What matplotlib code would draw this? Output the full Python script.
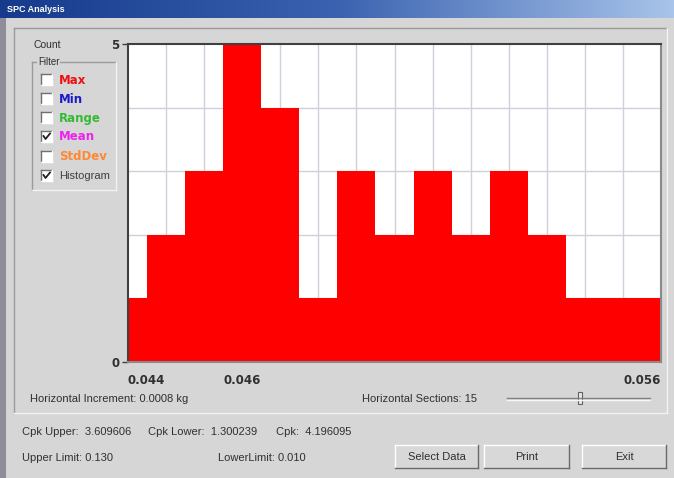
import matplotlib
matplotlib.use("Agg")
import matplotlib.pyplot as plt
import numpy as np
from matplotlib.patches import Rectangle
from matplotlib.colors import LinearSegmentedColormap

# histogram data (15 horizontal sections, increment 0.0008 kg)
bin_centers = [0.0440, 0.0448, 0.0456, 0.0464, 0.0472, 0.0480, 0.0488, 0.0496,
               0.0504, 0.0512, 0.0520, 0.0528, 0.0536, 0.0544, 0.0552]
counts = [1, 2, 3, 5, 4, 1, 3, 2, 3, 2, 3, 2, 1, 1, 1]
x_ticks = [0.044, 0.046, 0.0552]
x_tick_labels = ["0.044", "0.046", "0.056"]
y_ticks = [0, 5]

filters = ["Max", "Min", "Range", "Mean", "StdDev", "Histogram"]
filter_colors = ["#ee1111", "#1a1acc", "#33bb33", "#ee22ee", "#ff8833", "#404040"]
filter_checked = [False, False, False, True, False, True]

W, H = 674, 478
BG = "#d6d6d6"
TXT = "#303030"
plt.rcParams["font.family"] = ["Liberation Sans", "DejaVu Sans"]

fig = plt.figure(figsize=(W / 100, H / 100), dpi=100)
fig.patch.set_facecolor(BG)

# background "dialog" axes in pixel coords
bg = fig.add_axes([0, 0, 1, 1])
bg.set_xlim(0, W)
bg.set_ylim(H, 0)
bg.axis("off")


def box(x0, y0, x1, y1, dark="#808080", light="#f4f4f4", fill=None, lw=1):
    if fill is not None:
        bg.add_patch(Rectangle((x0, y0), x1 - x0, y1 - y0, facecolor=fill, edgecolor="none"))
    bg.plot([x0, x1], [y0, y0], color=dark, lw=lw)
    bg.plot([x0, x0], [y0, y1], color=dark, lw=lw)
    bg.plot([x0, x1], [y1, y1], color=light, lw=lw)
    bg.plot([x1, x1], [y0, y1], color=light, lw=lw)


# title bar
cmap = LinearSegmentedColormap.from_list("tb", ["#163a8c", "#3a62b0", "#a8c4ea"])
grad = np.linspace(0, 1, 256).reshape(1, -1)
bg.imshow(grad, cmap=cmap, aspect="auto", extent=[0, W, 18, 0])
bg.text(7, 9, "SPC Analysis", color="white", fontsize=6.5, va="center", weight="bold")
bg.add_patch(Rectangle((0, 18), 6, H - 18, facecolor="#8e8e98", edgecolor="none"))

# group frames
box(14, 28, 667, 413, dark="#9a9a9a", light="#f2f2f2")
box(32, 62, 116, 190, dark="#9a9a9a", light="#f2f2f2")
bg.text(38, 62, "Filter", fontsize=7, va="center", color=TXT,
        bbox=dict(facecolor=BG, edgecolor="none", pad=0.5))
bg.text(33, 45, "Count", fontsize=7.5, va="center", color=TXT)

rows = [80, 99, 118, 137, 157, 176]
for name, col, chk, yy in zip(filters, filter_colors, filter_checked, rows):
    box(41, yy - 6, 52, yy + 5, dark="#707070", light="#ffffff", fill="white")
    if chk:
        bg.plot([43.5, 45.5, 50], [yy - 1, yy + 2, yy - 3.5], color="#202020", lw=1.3)
    if name == "Histogram":
        bg.text(59, yy, name, fontsize=8, va="center", color=col)
    else:
        bg.text(59, yy, name, fontsize=8.5, va="center", color=col,
                weight="bold", family="DejaVu Sans")

# bottom texts
bg.text(30, 399, "Horizontal Increment: 0.0008 kg", fontsize=8, va="center", color=TXT)
bg.text(362, 399, "Horizontal Sections: 15", fontsize=8, va="center", color=TXT)
bg.plot([507, 650], [398, 398], color="#808080", lw=1)
bg.plot([507, 650], [399.5, 399.5], color="#f6f6f6", lw=1)
bg.add_patch(Rectangle((578, 392), 4, 12, facecolor="#e8e8e8", edgecolor="#606060", lw=0.8))

bg.text(22, 432, "Cpk Upper:  3.609606", fontsize=8, va="center", color=TXT)
bg.text(148, 432, "Cpk Lower:  1.300239", fontsize=8, va="center", color=TXT)
bg.text(276, 432, "Cpk:  4.196095", fontsize=8, va="center", color=TXT)
bg.text(22, 458, "Upper Limit: 0.130", fontsize=8, va="center", color=TXT)
bg.text(218, 458, "LowerLimit: 0.010", fontsize=8, va="center", color=TXT)

for label, x0, x1 in [("Select Data", 395, 478), ("Print", 484, 569), ("Exit", 582, 666)]:
    box(x0, 445, x1, 468, dark="#ffffff", light="#6a6a6a", fill="#d8d8d8")
    bg.text((x0 + x1) / 2, 457, label, fontsize=8, ha="center", va="center", color=TXT)

# histogram chart
ax = fig.add_axes([128 / W, 1 - 362 / H, 533 / W, 318 / H])
ax.set_facecolor("white")
ax.fill_between(bin_centers, counts, 0, step="mid", color="#ff0000", lw=0, zorder=2)
ax.set_xlim(bin_centers[0], bin_centers[-1])
ax.set_ylim(0, 5)
for xc in bin_centers[1:-1]:
    ax.axvline(xc, color="#d0d0dc", lw=1, zorder=1)
for yc in range(1, 5):
    ax.axhline(yc, color="#d0d0dc", lw=1, zorder=1)

ax.set_yticks(y_ticks)
ax.set_yticklabels([str(v) for v in y_ticks], fontsize=8.5, weight="bold",
                   color=TXT, family="DejaVu Sans")
ax.set_xticks(x_ticks)
ax.set_xticklabels(x_tick_labels, fontsize=8.5, weight="bold", color=TXT,
                   family="DejaVu Sans")
xl = ax.get_xticklabels()
xl[0].set_ha("left")
xl[1].set_ha("left")
xl[2].set_ha("right")
ax.tick_params(axis="y", length=4, width=1, color="#404040", pad=2)
ax.tick_params(axis="x", length=0, pad=9)

for side in ["top", "left"]:
    ax.spines[side].set_color("#404040")
    ax.spines[side].set_linewidth(1.5)
for side in ["bottom", "right"]:
    ax.spines[side].set_color("#8a8a8a")
    ax.spines[side].set_linewidth(1.5)

fig.savefig("out.png", dpi=100, facecolor=BG)
